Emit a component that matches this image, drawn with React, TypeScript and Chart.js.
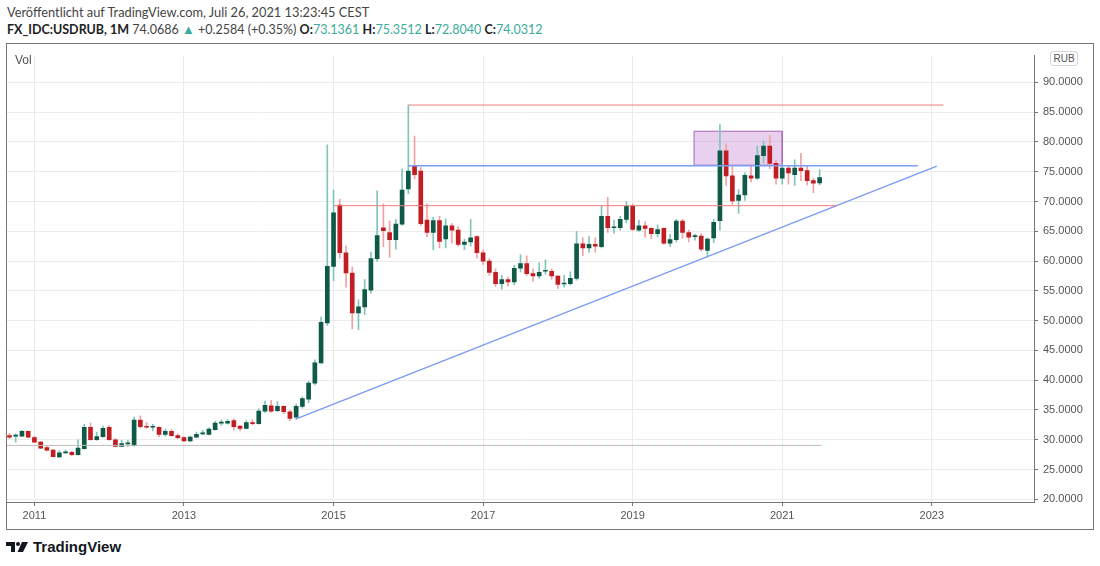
import { useEffect, useRef } from 'react';
import Chart from 'chart.js/auto';

// monthly candles, first bar = Sep 2010, last bar = Jul 2021
const opens = [
  30.7, 30.6, 30.6, 31.4,
  30.35, 29.6, 28.7, 28.25, 27.1, 27.8, 27.9, 27.5, 28.5, 32.1, 30.0, 30.5,
  32.1, 30.0, 28.9, 29.3, 29.0, 33.3, 32.2, 32.1, 32.1, 30.9, 31.4, 30.7,
  30.35, 29.8, 30.45, 31.0, 30.9, 31.7, 32.8, 32.8, 33.2, 32.3, 31.9, 32.9,
  32.7, 34.8, 35.7, 34.9, 35.6, 34.7, 33.8, 35.6, 36.8, 39.5, 42.9, 49.6,
  59.1, 69.4, 61.4, 58.0, 51.3, 52.3, 55.1, 60.4, 65.6, 64.8, 63.6, 66.2,
  72.1, 76.0, 75.1, 66.9, 64.8, 66.8, 63.7, 65.9, 65.2, 62.8, 63.2, 64.1,
  61.4, 60.0, 58.1, 56.2, 56.9, 56.5, 58.8, 59.6, 57.9, 57.5, 58.3, 58.3,
  57.5, 56.15, 56.2, 57.1, 62.9, 62.2, 62.8, 62.4, 67.5, 65.6, 65.6, 67.0,
  69.2, 65.2, 65.9, 65.5, 64.6, 65.5, 63.0, 63.6, 66.7, 64.8, 64.1, 64.2,
  61.8, 63.9, 66.8, 78.5, 74.3, 70.2, 71.1, 74.3, 73.9, 77.7, 79.3, 76.4,
  73.9, 75.6, 74.5, 75.6, 75.2, 73.5, 73.14,
];
const highs = [
  31.1, 31.0, 31.6, 31.5,
  30.6, 29.7, 28.9, 28.4, 28.2, 28.3, 28.1, 30.0, 32.6, 32.8, 31.3, 32.3,
  32.4, 30.2, 29.9, 29.9, 33.8, 34.0, 32.9, 32.6, 32.2, 31.8, 31.7, 31.0,
  30.5, 30.6, 31.3, 31.6, 32.0, 33.1, 33.3, 33.4, 33.5, 32.4, 33.2, 33.4,
  35.2, 36.5, 36.6, 36.4, 35.7, 34.9, 36.0, 37.2, 39.8, 43.4, 50.6, 79.5,
  71.9, 70.4, 62.5, 59.0, 53.5, 56.9, 61.5, 71.8, 69.6, 66.7, 67.0, 75.5,
  86.2, 81.0, 75.7, 69.6, 67.4, 67.5, 67.1, 66.3, 65.8, 63.7, 67.0, 64.3,
  61.9, 60.4, 58.7, 57.6, 57.3, 59.3, 61.1, 60.9, 58.7, 59.7, 60.2, 58.7,
  57.6, 57.6, 58.2, 65.0, 63.9, 64.1, 63.9, 69.3, 70.7, 66.9, 67.5, 70.0,
  69.6, 66.9, 66.6, 65.6, 66.1, 65.6, 64.5, 67.0, 67.0, 65.2, 64.5, 64.6,
  63.9, 67.0, 82.9, 79.7, 75.9, 72.0, 74.8, 75.9, 79.3, 80.2, 81.1, 76.9,
  76.3, 76.0, 77.0, 78.1, 75.9, 73.9, 75.35,
];
const lows = [
  30.2, 29.6, 30.5, 30.3,
  29.5, 28.5, 28.1, 27.1, 27.0, 27.7, 27.3, 27.4, 28.4, 29.9, 29.9, 30.4,
  29.9, 28.8, 28.9, 28.9, 28.9, 32.0, 31.9, 31.5, 30.5, 30.6, 30.6, 30.2,
  29.7, 29.7, 30.3, 30.8, 30.8, 31.6, 32.4, 32.6, 31.6, 31.5, 31.8, 32.5,
  32.6, 34.6, 34.6, 34.7, 34.4, 33.2, 33.4, 35.3, 36.2, 39.2, 42.8, 49.2,
  56.7, 60.5, 55.6, 48.6, 48.5, 51.0, 54.6, 60.0, 62.4, 60.6, 62.0, 66.0,
  71.3, 73.8, 66.0, 64.0, 61.9, 62.2, 62.2, 63.0, 62.5, 61.9, 62.5, 60.5,
  59.4, 57.6, 55.7, 55.3, 55.8, 56.0, 58.2, 57.6, 56.6, 57.1, 57.8, 56.9,
  55.4, 55.6, 56.0, 56.8, 60.9, 61.5, 61.5, 62.2, 64.8, 64.7, 65.2, 66.4,
  65.1, 65.0, 64.0, 63.7, 64.0, 62.8, 62.4, 63.2, 63.8, 63.2, 63.5, 61.7,
  60.8, 63.1, 65.2, 72.7, 69.5, 68.0, 70.2, 73.3, 73.7, 76.5, 75.5, 72.9,
  72.9, 72.9, 72.7, 73.5, 72.8, 71.5, 72.8,
];
const closes = [
  30.45, 30.7, 31.4, 30.45,
  29.6, 28.6, 28.25, 27.15, 27.8, 27.9, 27.5, 28.6, 32.1, 30.0, 30.55, 31.9,
  30.0, 28.9, 29.35, 29.4, 33.3, 32.2, 32.1, 32.2, 30.9, 31.4, 30.7, 30.35,
  29.8, 30.45, 30.9, 31.15, 31.8, 32.8, 32.9, 33.1, 32.2, 31.9, 32.9, 32.7,
  34.8, 35.8, 34.8, 35.6, 34.7, 33.6, 35.6, 36.9, 39.5, 42.9, 49.7, 59.1,
  68.1, 61.4, 58.0, 51.3, 52.3, 55.2, 60.4, 64.3, 65.1, 63.6, 66.2, 71.9,
  75.1, 74.5, 66.3, 64.8, 66.8, 63.3, 65.9, 65.2, 62.8, 63.2, 63.9, 61.4,
  60.0, 58.1, 56.2, 56.9, 56.5, 58.8, 59.6, 57.9, 57.5, 58.1, 58.4, 57.5,
  56.1, 56.3, 57.1, 62.9, 62.2, 62.8, 62.5, 67.5, 65.6, 65.7, 67.0, 69.2,
  65.3, 65.9, 65.5, 64.6, 65.3, 63.0, 63.6, 66.7, 64.8, 64.0, 64.2, 62.0,
  63.7, 66.5, 78.5, 74.3, 70.1, 71.1, 74.4, 73.9, 77.7, 79.3, 76.4, 73.9,
  75.6, 74.8, 75.6, 75.2, 73.5, 73.1, 74.03,
];

// x axis labels (Jan of each year, counted in bars from Sep 2010)
const tickYears = [2011, 2013, 2015, 2017, 2019, 2021, 2023];
const priceTicks = [20, 25, 30, 35, 40, 45, 50, 55, 60, 65, 70, 75, 80, 85, 90];

// drawings: [barIndex, price]
const topLevel = [[64.0, 86.2], [149.85, 86.2]];
const midLevel = [[52.0, 69.3], [132.75, 69.3]];
const blueLevel = [[64.0, 76.0], [145.75, 76.0]];
const trendLine = [[46.0, 33.5], [148.8, 75.95]];
const boxZone = [[109.85, 76.1], [109.85, 81.8], [124.0, 81.8], [124.0, 76.1], [109.85, 76.1]];
const prevClose = [[-0.4, 29.05], [130.3, 29.05]];

const UP = '#0f5a47';
const UP_WICK = '#80c5b9';
const DOWN = '#c11d22';
const DOWN_WICK = '#f2a1a1';
const TEAL = '#3aab9c';

const yearToBar = (y: number) => (y - 2010) * 12 - 8;
const pts = (arr: number[][]) => arr.map(([x, y]) => ({ x, y }));

function CandleChart() {
  const ref = useRef<HTMLCanvasElement>(null);

  useEffect(() => {
    if (!ref.current) return;
    const up = closes.map((c, i) => c >= opens[i]);

    const line = (data: number[][], color: string, width: number, extra: any = {}) => ({
      type: 'line' as const,
      data: pts(data),
      borderColor: color,
      borderWidth: width,
      pointRadius: 0,
      fill: false,
      tension: 0,
      order: 1,
      ...extra,
    });

    const chart = new Chart(ref.current, {
      type: 'bar',
      data: {
        datasets: [
          {
            data: opens.map((_, i) => ({ x: i, y: [lows[i], highs[i]] })),
            backgroundColor: up.map((u) => (u ? UP_WICK : DOWN_WICK)),
            barThickness: 1,
            grouped: false,
            order: 4,
          } as any,
          {
            data: opens.map((o, i) => ({ x: i, y: [o, closes[i]] })),
            backgroundColor: up.map((u) => (u ? UP : DOWN)),
            barThickness: 4,
            minBarLength: 1,
            grouped: false,
            order: 3,
          } as any,
          // zone sits behind the candles
          line(boxZone, '#a766b9', 1, { fill: 'shape', backgroundColor: 'rgba(180, 100, 200, 0.3)', order: 5 }),
          line(prevClose, '#f4a6a6', 1, { borderDash: [4, 4] }),
          line(prevClose, '#8fd0c5', 1, { borderDash: [4, 4], borderDashOffset: 4 }),
          line(topLevel, '#f07d7d', 1),
          line(midLevel, '#f07d7d', 1),
          line(blueLevel, '#7d9cf5', 1.5),
          line(trendLine, '#7d9cf5', 1.5),
        ],
      },
      options: {
        animation: false,
        responsive: true,
        maintainAspectRatio: false,
        layout: { padding: 0 },
        plugins: { legend: { display: false }, tooltip: { enabled: false } },
        scales: {
          x: {
            type: 'linear',
            min: -0.4,
            max: 164.4,
            offset: false,
            afterBuildTicks: (s: any) => {
              s.ticks = tickYears.map((y) => ({ value: yearToBar(y) }));
            },
            afterFit: (s: any) => {
              s.height = 27;
            },
            ticks: {
              autoSkip: false,
              maxRotation: 0,
              padding: 3,
              color: '#555',
              font: { family: 'Liberation Sans', size: 11 },
              callback: (v: any) => String(2010 + (Number(v) + 8) / 12),
            },
            grid: { offset: false, color: '#ebebeb', tickColor: '#777', tickLength: 4 },
            border: { color: '#777' },
          },
          y: {
            position: 'right',
            min: 19.55,
            max: 94.5,
            afterBuildTicks: (s: any) => {
              s.ticks = priceTicks.map((v) => ({ value: v }));
            },
            afterFit: (s: any) => {
              s.width = 59;
            },
            ticks: {
              padding: 5,
              color: '#555',
              font: { family: 'Liberation Sans', size: 11 },
              callback: (v: any) => Number(v).toFixed(4),
            },
            grid: { color: '#ebebeb', tickColor: '#777', tickLength: 4 },
            border: { color: '#777' },
          },
        },
      } as any,
    });

    return () => chart.destroy();
  }, []);

  return <canvas ref={ref} />;
}

export default function App() {
  const bold = { fontWeight: 700, color: '#222' };
  const teal = { color: TEAL };
  return (
    <div style={{ position: 'fixed', left: 0, top: 0, width: 1100, height: 566, background: '#fff', fontFamily: 'Lato, sans-serif' }}>
      <div style={{ position: 'absolute', left: 7, top: 4, fontSize: 12.8, color: '#444', whiteSpace: 'nowrap' }}>
        Veröffentlicht auf TradingView.com, Juli 26, 2021 13:23:45 CEST
      </div>
      <div style={{ position: 'absolute', left: 7, top: 21, fontSize: 12.5, color: '#444', whiteSpace: 'nowrap' }}>
        <span style={bold}>FX_IDC:USDRUB, 1M</span> 74.0686 <span style={{ ...teal, fontSize: 13 }}>▲</span> +0.2584 (+0.35%){' '}
        <span style={bold}>O:</span><span style={teal}>73.1361</span> <span style={bold}>H:</span>
        <span style={teal}>75.3512</span> <span style={bold}>L:</span><span style={teal}>72.8040</span>{' '}
        <span style={bold}>C:</span><span style={teal}>74.0312</span>
      </div>
      <div style={{ position: 'absolute', left: 6, top: 43, width: 1086, height: 485, border: '1px solid #777' }}>
        <div style={{ position: 'relative', width: 1086, height: 485 }}>
          <CandleChart />
        </div>
      </div>
      <div style={{ position: 'absolute', left: 15, top: 53, fontSize: 12, color: '#555', fontFamily: 'Liberation Sans' }}>Vol</div>
      <div
        style={{
          position: 'absolute', left: 1050, top: 51, width: 26, height: 13, border: '1px solid #d6d6d6', borderRadius: 3,
          fontSize: 10, color: '#555', textAlign: 'center', lineHeight: '13px', fontFamily: 'Liberation Sans', background: '#fff',
        }}
      >
        RUB
      </div>
      <div style={{ position: 'absolute', left: 6, top: 538, display: 'flex', alignItems: 'center' }}>
        <svg width="24" height="14" viewBox="0 0 24 14">
          <path d="M0 2 H9 V12 H5 V6 H0 Z" fill="#131722" />
          <circle cx="12" cy="4" r="2" fill="#131722" />
          <path d="M16 2 H22 L17 12 H11.5 Z" fill="#131722" />
        </svg>
        <span style={{ marginLeft: 3, fontSize: 15, fontWeight: 700, color: '#131722', fontFamily: 'Liberation Sans' }}>TradingView</span>
      </div>
    </div>
  );
}
